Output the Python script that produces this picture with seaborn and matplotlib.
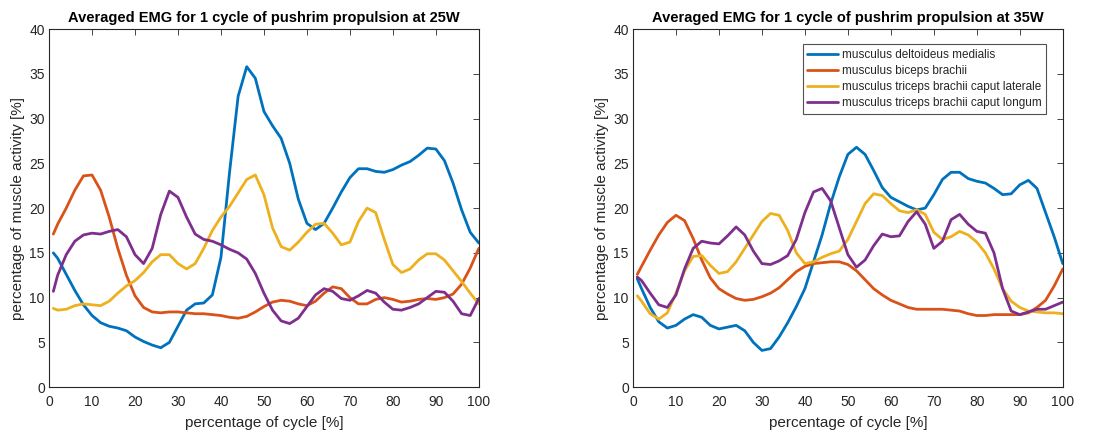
import pandas as pd
import seaborn as sns
import matplotlib.pyplot as plt

# percentage of cycle (shared x positions)
cycle = [1] + list(range(2, 101, 2))

muscles = ['musculus deltoideus medialis', 'musculus biceps brachii',
           'musculus triceps brachii caput laterale', 'musculus triceps brachii caput longum']
colors = ['#0072BD', '#D95319', '#EDB120', '#7E2F8E']

# 25W
delt_25 = [15.0, 14.4, 12.6, 10.8, 9.2, 8.0, 7.2, 6.8, 6.6, 6.3, 5.6, 5.1, 4.7, 4.4, 5.0, 6.8, 8.6, 9.3, 9.4,
           10.3, 14.5, 24.0, 32.5, 35.8, 34.5, 30.8, 29.2, 27.8, 25.0, 21.0, 18.3, 17.6, 18.3, 20.0, 21.8,
           23.4, 24.4, 24.4, 24.1, 24.0, 24.3, 24.8, 25.2, 25.9, 26.7, 26.6, 25.3, 22.8, 19.8, 17.3, 16.1]
bic_25 = [17.1, 18.2, 20.0, 22.0, 23.6, 23.7, 22.0, 19.0, 15.5, 12.5, 10.2, 8.9, 8.4, 8.3, 8.4, 8.4, 8.3,
          8.2, 8.2, 8.1, 8.0, 7.8, 7.7, 7.9, 8.4, 9.0, 9.5, 9.7, 9.6, 9.3, 9.1, 9.6, 10.5, 11.2, 11.0,
          10.0, 9.3, 9.3, 9.8, 10.0, 9.8, 9.5, 9.6, 9.8, 9.9, 9.8, 10.0, 10.4, 11.5, 13.3, 15.5]
tlat_25 = [8.8, 8.6, 8.7, 9.1, 9.3, 9.2, 9.1, 9.6, 10.5, 11.3, 11.9, 12.8, 14.0, 14.8, 14.8, 13.8, 13.2,
           13.8, 15.5, 17.5, 19.0, 20.2, 21.7, 23.2, 23.7, 21.5, 17.8, 15.7, 15.3, 16.2, 17.3, 18.2, 18.3,
           17.2, 15.9, 16.2, 18.5, 20.0, 19.5, 16.5, 13.7, 12.8, 13.2, 14.2, 14.9, 14.9, 14.2, 13.0, 11.8,
           10.5, 9.3]
tlong_25 = [10.7, 12.5, 14.8, 16.3, 17.0, 17.2, 17.1, 17.4, 17.6, 16.8, 14.8, 13.8, 15.5, 19.3, 21.9, 21.2,
            19.0, 17.1, 16.5, 16.3, 15.9, 15.4, 15.0, 14.3, 12.7, 10.5, 8.6, 7.4, 7.1, 7.7, 9.0, 10.3, 11.0,
            10.7, 9.9, 9.7, 10.2, 10.8, 10.5, 9.5, 8.7, 8.6, 8.9, 9.3, 10.0, 10.7, 10.6, 9.6, 8.2, 8.0, 9.9]

# 35W
delt_35 = [12.1, 11.0, 8.9, 7.3, 6.6, 6.9, 7.6, 8.1, 7.8, 6.9, 6.5, 6.7, 6.9, 6.3, 5.0, 4.1, 4.3, 5.6, 7.2,
           9.0, 11.0, 14.0, 17.0, 20.5, 23.5, 26.0, 26.8, 26.0, 24.2, 22.3, 21.2, 20.7, 20.2, 19.8, 20.0,
           21.5, 23.2, 24.0, 24.0, 23.3, 23.0, 22.8, 22.2, 21.5, 21.6, 22.6, 23.1, 22.2, 19.5, 16.8, 13.8]
bic_35 = [12.6, 13.5, 15.3, 17.0, 18.4, 19.2, 18.6, 16.6, 14.2, 12.2, 11.0, 10.4, 9.9, 9.7, 9.8, 10.1, 10.5,
          11.1, 12.0, 12.9, 13.5, 13.8, 13.9, 14.0, 14.0, 13.7, 13.0, 12.0, 11.0, 10.3, 9.7, 9.3, 8.9, 8.7,
          8.7, 8.7, 8.7, 8.6, 8.5, 8.2, 8.0, 8.0, 8.1, 8.1, 8.1, 8.1, 8.3, 8.9, 9.7, 11.3, 13.2]
tlat_35 = [10.2, 9.6, 8.2, 7.6, 8.3, 10.5, 13.0, 14.6, 14.7, 13.6, 12.7, 12.9, 14.0, 15.5, 17.0, 18.5, 19.4,
           19.2, 17.5, 15.0, 13.8, 14.0, 14.5, 14.9, 15.2, 16.5, 18.5, 20.5, 21.6, 21.4, 20.5, 19.7, 19.5,
           19.8, 19.3, 17.3, 16.5, 16.8, 17.4, 17.0, 16.2, 15.0, 13.2, 11.0, 9.6, 8.9, 8.5, 8.4, 8.3, 8.3, 8.2]
tlong_35 = [12.3, 11.9, 10.5, 9.2, 8.9, 10.3, 13.2, 15.5, 16.3, 16.1, 16.0, 16.9, 17.9, 17.0, 15.2, 13.8,
            13.7, 14.1, 14.7, 16.5, 19.5, 21.8, 22.2, 20.8, 17.8, 14.8, 13.4, 14.2, 15.8, 17.1, 16.8, 16.9,
            18.5, 19.6, 18.2, 15.5, 16.3, 18.7, 19.3, 18.2, 17.4, 17.2, 15.0, 11.0, 8.5, 8.1, 8.4, 8.7, 8.7,
            9.1, 9.5]

panels = [
    ('Averaged EMG for 1 cycle of pushrim propulsion at 25W', [delt_25, bic_25, tlat_25, tlong_25]),
    ('Averaged EMG for 1 cycle of pushrim propulsion at 35W', [delt_35, bic_35, tlat_35, tlong_35]),
]

sns.set_theme(style='white')
plt.rcParams['font.family'] = ['Liberation Sans', 'DejaVu Sans']

fig = plt.figure(figsize=(11.02, 4.34), dpi=100)
ax_left = fig.add_axes([0.0445, 0.108, 0.390, 0.825])
ax_right = fig.add_axes([0.5744, 0.108, 0.390, 0.825])

for ax, (title, series) in zip([ax_left, ax_right], panels):
    rows = []
    for name, vals in zip(muscles, series):
        for x, y in zip(cycle, vals):
            rows.append({'cycle': x, 'activity': y, 'muscle': name})
    df = pd.DataFrame(rows)
    sns.lineplot(data=df, x='cycle', y='activity', hue='muscle', hue_order=muscles,
                 palette=colors, linewidth=2, ax=ax, legend=(ax is ax_right))

    ax.set_xlim(0, 100)
    ax.set_ylim(0, 40)
    ax.set_xticks(range(0, 101, 10))
    ax.set_yticks(range(0, 41, 5))
    ax.set_title(title, fontsize=10.5, fontweight='bold', color='black', pad=5)
    ax.set_xlabel('percentage of cycle [%]', fontsize=11, color='#262626', labelpad=5)
    ax.set_ylabel('percentage of muscle activity [%]', fontsize=11, color='#262626', labelpad=3)
    ax.tick_params(direction='in', top=True, right=True, length=4, width=0.6,
                   labelsize=10, colors='#262626', pad=3)
    ax.tick_params(axis='x', pad=6)
    for s in ax.spines.values():
        s.set_color('#262626')
        s.set_linewidth(0.8)

leg = ax_right.legend(loc='upper right', bbox_to_anchor=(0.975, 0.975), fontsize=8.5,
                      frameon=True, fancybox=False, handlelength=2.6, borderpad=0.4,
                      labelspacing=0.35, handletextpad=0.3)
leg.get_frame().set_edgecolor('#262626')
leg.get_frame().set_linewidth(0.8)

plt.savefig('out.png', dpi=100)
